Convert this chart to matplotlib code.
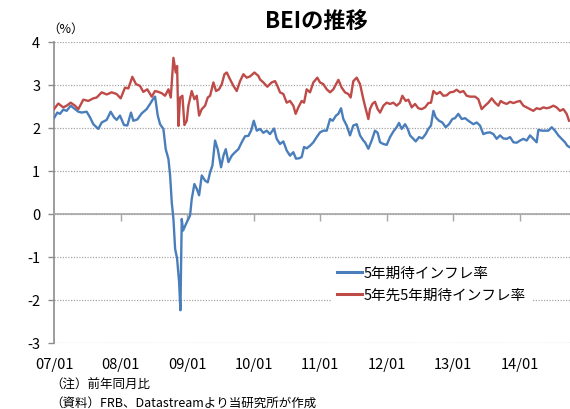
import matplotlib
matplotlib.use("Agg")
import matplotlib.pyplot as plt

plt.rcParams["font.family"] = ["Noto Sans CJK JP", "DejaVu Sans"]

# 5年期待インフレ率 (decimal year, %)
years_5y = [
    2007.000, 2007.050, 2007.090, 2007.140, 2007.190, 2007.251, 2007.316, 2007.366,
    2007.416, 2007.491, 2007.541, 2007.591, 2007.667, 2007.717, 2007.792, 2007.852,
    2007.902, 2007.942, 2007.992, 2008.053, 2008.103, 2008.158, 2008.193, 2008.253,
    2008.318, 2008.393, 2008.444, 2008.504, 2008.520, 2008.560, 2008.595, 2008.645,
    2008.680, 2008.721, 2008.746, 2008.771, 2008.796, 2008.821, 2008.851, 2008.881,
    2008.901, 2008.921, 2008.941, 2008.996, 2009.046, 2009.071, 2009.111, 2009.147,
    2009.182, 2009.222, 2009.272, 2009.312, 2009.347, 2009.382, 2009.422, 2009.462,
    2009.512, 2009.548, 2009.583, 2009.623, 2009.673, 2009.723, 2009.773, 2009.823,
    2009.873, 2009.923, 2009.964, 2010.004, 2010.049, 2010.098, 2010.148, 2010.198,
    2010.248, 2010.309, 2010.349, 2010.399, 2010.449, 2010.499, 2010.549, 2010.599,
    2010.639, 2010.690, 2010.725, 2010.760, 2010.800, 2010.850, 2010.900, 2010.950,
    2011.000, 2011.050, 2011.101, 2011.151, 2011.191, 2011.241, 2011.276, 2011.316,
    2011.351, 2011.401, 2011.451, 2011.501, 2011.552, 2011.602, 2011.652, 2011.677,
    2011.727, 2011.777, 2011.827, 2011.867, 2011.903, 2011.953, 2012.003, 2012.053,
    2012.103, 2012.153, 2012.188, 2012.228, 2012.279, 2012.319, 2012.354, 2012.404,
    2012.439, 2012.489, 2012.539, 2012.589, 2012.629, 2012.669, 2012.705, 2012.740,
    2012.790, 2012.840, 2012.890, 2012.940, 2012.990, 2013.030, 2013.080, 2013.131,
    2013.181, 2013.231, 2013.306, 2013.356, 2013.406, 2013.456, 2013.507, 2013.557,
    2013.607, 2013.657, 2013.707, 2013.757, 2013.807, 2013.858, 2013.908, 2013.958,
    2014.008, 2014.058, 2014.108, 2014.158, 2014.208, 2014.258, 2014.284, 2014.334,
    2014.384, 2014.434, 2014.484, 2014.534, 2014.584, 2014.634, 2014.684, 2014.719,
    2014.749,
]
bei_5y = [
    2.22, 2.35, 2.32, 2.42, 2.39, 2.51, 2.43, 2.37,
    2.35, 2.37, 2.24, 2.08, 1.97, 2.12, 2.18, 2.37,
    2.24, 2.18, 2.28, 2.06, 2.05, 2.35, 2.16, 2.19,
    2.33, 2.43, 2.55, 2.70, 2.72, 2.28, 2.08, 1.97,
    1.50, 1.27, 0.89, 0.26, -0.12, -0.81, -1.04, -1.58,
    -2.24, -0.12, -0.39, -0.20, -0.04, 0.34, 0.69, 0.58,
    0.43, 0.89, 0.77, 0.73, 0.96, 1.12, 1.70, 1.50,
    1.08, 1.35, 1.50, 1.20, 1.35, 1.43, 1.50, 1.66,
    1.80, 1.81, 1.93, 2.16, 1.93, 1.97, 1.88, 1.93,
    1.85, 1.98, 1.74, 1.62, 1.68, 1.47, 1.35, 1.43,
    1.28, 1.29, 1.32, 1.55, 1.52, 1.58, 1.66, 1.78,
    1.89, 1.93, 1.93, 2.20, 2.16, 2.28, 2.32, 2.45,
    2.20, 2.05, 1.82, 2.05, 2.08, 1.82, 1.70, 1.66,
    1.51, 1.70, 1.93, 1.88, 1.66, 1.62, 1.60, 1.78,
    1.91, 2.01, 2.11, 1.97, 2.08, 1.97, 1.82, 1.74,
    1.68, 1.78, 1.75, 1.85, 1.97, 2.05, 2.39, 2.24,
    2.16, 2.12, 2.01, 2.08, 2.20, 2.22, 2.32, 2.20,
    2.22, 2.16, 2.08, 2.12, 2.05, 1.85, 1.88, 1.89,
    1.85, 1.74, 1.82, 1.75, 1.74, 1.78, 1.66, 1.65,
    1.70, 1.74, 1.70, 1.82, 1.74, 1.66, 1.95, 1.93,
    1.93, 1.93, 2.01, 1.93, 1.82, 1.74, 1.66, 1.58,
    1.55,
]

# 5年先5年期待インフレ率 (decimal year, %)
years_5y5y = [
    2007.000, 2007.065, 2007.140, 2007.190, 2007.251, 2007.316, 2007.366, 2007.441,
    2007.516, 2007.591, 2007.642, 2007.717, 2007.792, 2007.867, 2007.942, 2008.003,
    2008.068, 2008.118, 2008.178, 2008.233, 2008.293, 2008.343, 2008.403, 2008.469,
    2008.519, 2008.570, 2008.620, 2008.670, 2008.721, 2008.756, 2008.796, 2008.831,
    2008.851, 2008.871, 2008.896, 2008.931, 2008.961, 2008.996, 2009.021, 2009.071,
    2009.111, 2009.147, 2009.182, 2009.222, 2009.272, 2009.312, 2009.347, 2009.397,
    2009.437, 2009.482, 2009.523, 2009.563, 2009.598, 2009.648, 2009.698, 2009.748,
    2009.798, 2009.848, 2009.898, 2009.949, 2010.014, 2010.074, 2010.098, 2010.148,
    2010.208, 2010.273, 2010.324, 2010.359, 2010.399, 2010.449, 2010.499, 2010.549,
    2010.599, 2010.634, 2010.674, 2010.725, 2010.760, 2010.800, 2010.850, 2010.900,
    2010.960, 2011.000, 2011.050, 2011.101, 2011.151, 2011.201, 2011.276, 2011.326,
    2011.376, 2011.426, 2011.461, 2011.501, 2011.552, 2011.602, 2011.652, 2011.677,
    2011.727, 2011.752, 2011.787, 2011.827, 2011.867, 2011.903, 2011.953, 2012.003,
    2012.053, 2012.103, 2012.153, 2012.203, 2012.238, 2012.289, 2012.329, 2012.379,
    2012.429, 2012.479, 2012.529, 2012.579, 2012.629, 2012.669, 2012.705, 2012.755,
    2012.805, 2012.855, 2012.905, 2012.955, 2013.005, 2013.055, 2013.106, 2013.156,
    2013.206, 2013.256, 2013.331, 2013.381, 2013.431, 2013.482, 2013.532, 2013.582,
    2013.632, 2013.682, 2013.717, 2013.757, 2013.807, 2013.858, 2013.908, 2013.958,
    2014.008, 2014.058, 2014.108, 2014.158, 2014.208, 2014.258, 2014.309, 2014.359,
    2014.409, 2014.459, 2014.509, 2014.559, 2014.609, 2014.659, 2014.709, 2014.745,
]
bei_5y5y = [
    2.43, 2.56, 2.47, 2.51, 2.58, 2.51, 2.43, 2.65,
    2.62, 2.68, 2.70, 2.82, 2.77, 2.82, 2.78, 2.68,
    2.93, 2.91, 3.18, 3.01, 2.97, 2.83, 2.89, 2.72,
    2.85, 2.83, 2.80, 2.74, 2.89, 2.70, 3.62, 3.28,
    3.43, 2.04, 2.70, 2.74, 2.06, 2.16, 2.51, 2.85,
    2.66, 2.74, 2.28, 2.43, 2.51, 2.70, 2.74, 3.05,
    2.85, 2.89, 3.01, 3.24, 3.28, 3.12, 2.97, 2.85,
    3.08, 3.24, 3.16, 3.19, 3.28, 3.20, 3.12, 3.05,
    2.95, 3.05, 3.08, 2.97, 2.82, 2.78, 2.58, 2.62,
    2.51, 2.32, 2.47, 2.62, 2.58, 2.89, 2.82, 3.05,
    3.16, 3.05, 3.01, 2.89, 2.82, 2.89, 3.11, 2.93,
    2.82, 2.78, 2.70, 3.08, 3.16, 3.01, 2.66, 2.50,
    2.20, 2.43, 2.55, 2.60, 2.43, 2.35, 2.51, 2.58,
    2.55, 2.58, 2.51, 2.58, 2.74, 2.62, 2.65, 2.47,
    2.55, 2.45, 2.43, 2.47, 2.57, 2.58, 2.85, 2.78,
    2.83, 2.74, 2.75, 2.82, 2.83, 2.88, 2.82, 2.85,
    2.74, 2.72, 2.72, 2.66, 2.43, 2.51, 2.58, 2.68,
    2.58, 2.51, 2.62, 2.58, 2.55, 2.60, 2.57, 2.60,
    2.62, 2.51, 2.47, 2.43, 2.39, 2.45, 2.43, 2.47,
    2.45, 2.47, 2.51, 2.47, 2.39, 2.43, 2.32, 2.16,
]

year_ticks = [2007, 2008, 2009, 2010, 2011, 2012, 2013, 2014]
year_labels = ["07/01", "08/01", "09/01", "10/01", "11/01", "12/01", "13/01", "14/01"]
y_ticks = [-3, -2, -1, 0, 1, 2, 3, 4]

BLUE = "#4a7ebb"
RED = "#be4b48"
AXIS_GRAY = "#8c8c8c"

fig = plt.figure(figsize=(5.7, 4.1), dpi=100)
ax = fig.add_axes([54 / 570, 1 - 344 / 410, 516 / 570, 301.5 / 410])

ax.plot(years_5y, bei_5y, color=BLUE, lw=1.7, label="5年期待インフレ率", zorder=3)
ax.plot(years_5y5y, bei_5y5y, color=RED, lw=1.7, label="5年先5年期待インフレ率", zorder=3)

ax.set_xlim(2007.0, 2007.0 + 516 / 66.5)
ax.set_ylim(-3, 4)

# dotted gridlines, solid zero line
ax.set_yticks(y_ticks)
ax.set_yticklabels([str(v) for v in y_ticks], fontsize=10.5)
ax.grid(axis="y", color="#a6a6a6", linestyle=(0, (1, 1.2)), lw=0.9, zorder=1)
ax.tick_params(axis="y", length=4, width=1, color=AXIS_GRAY, pad=6)

for side in ["top", "right"]:
    ax.spines[side].set_visible(False)
ax.spines["left"].set_color(AXIS_GRAY)
ax.spines["left"].set_linewidth(1.2)
ax.spines["bottom"].set_position(("data", 0))
ax.spines["bottom"].set_color("#a6a6a6")
ax.spines["bottom"].set_linewidth(1.2)

ax.set_xticks(year_ticks[1:])
ax.tick_params(axis="x", length=5, width=1, color="#a6a6a6", labelbottom=False)

sec = ax.secondary_xaxis("bottom")
sec.set_xticks(year_ticks)
sec.set_xticklabels(year_labels, fontsize=10.5)
sec.tick_params(length=0, pad=10)
sec.spines["bottom"].set_visible(False)

leg = ax.legend(
    loc="upper left",
    bbox_to_anchor=(331 / 570, 1 - 261 / 410),
    bbox_transform=fig.transFigure,
    borderaxespad=0,
    fontsize=10.5,
    frameon=True,
    fancybox=False,
    handlelength=1.7,
    handletextpad=0.15,
    labelspacing=0.55,
    borderpad=0.4,
)
leg.get_frame().set_edgecolor("none")
leg.get_frame().set_facecolor("white")
leg.get_frame().set_alpha(1)
for line in leg.get_lines():
    line.set_linewidth(2.2)

fig.text(316 / 570, 1 - 22 / 410, "BEIの推移", ha="center", va="center",
         fontsize=16, fontweight="bold")
fig.text(47 / 570, 1 - 29 / 410, "（%）", ha="left", va="center", fontsize=9)
fig.text(50 / 570, 1 - 385 / 410, "（注）前年同月比", ha="left", va="center", fontsize=9)
fig.text(50 / 570, 1 - 403 / 410, "（資料）FRB、Datastreamより当研究所が作成",
         ha="left", va="center", fontsize=9)

fig.savefig("out.png", dpi=100)
